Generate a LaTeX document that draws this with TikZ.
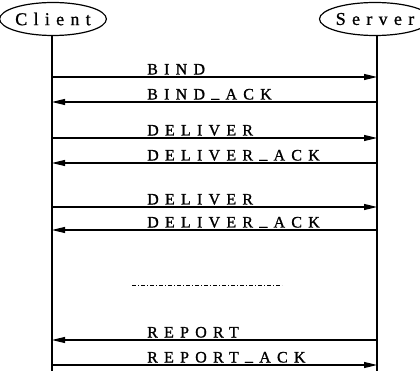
\documentclass[tikz,border=0pt]{standalone}
\usepackage{fontspec}
\setmainfont{Liberation Serif}
\usetikzlibrary{arrows.meta,shapes.geometric}
\newcommand{\usc}{\hspace{0.39em}\raisebox{1.8pt}{\_}\hspace{0.39em}}
\begin{document}
\begin{tikzpicture}[x=1pt,y=-1pt,
  actor/.style={draw,ellipse,line width=1.2pt,minimum width=95pt,minimum height=33pt,inner sep=0pt,
    font=\fontsize{18}{18}\selectfont\addfontfeature{LetterSpace=35,FakeBold=1}},
  life/.style={line width=1.4pt},
  msg/.style={line width=1.2pt,-{Triangle[length=13pt,width=6pt]}},
  lbl/.style={anchor=base west,inner sep=0pt,
    font=\fontsize{16}{16}\selectfont\addfontfeature{LetterSpace=39,FakeBold=1}},
  sep/.style={line width=0.9pt,dash pattern=on 4pt off 2pt on 1pt off 2pt}]
\useasboundingbox (0,0) rectangle (420,371);
\node[actor] (client) at (53,19) {Client};
\node[actor] (server) at (375,19) {Server};
\coordinate (cend) at (52,371);
\coordinate (send) at (377,371);
\draw[life] (client.south -| cend) -- (cend);
\draw[life] (server.south -| send) -- (send);
\foreach \n/\y in {1/77,2/102,3/138,4/163,5/207,6/230,7/340,8/365}{
  \coordinate (c\n) at (52,\y);
  \coordinate (s\n) at (377,\y);
}
\draw[msg] (c1) -- (s1);
\draw[msg] (s2) -- (c2);
\draw[msg] (c3) -- (s3);
\draw[msg] (s4) -- (c4);
\draw[msg] (c5) -- (s5);
\draw[msg] (s6) -- (c6);
\draw[msg] (s7) -- (c7);
\draw[msg] (c8) -- (s8);
\node[lbl] (l1) at (147,74.5) {BIND};
\node[lbl] (l2) at (147,99.5) {BIND\usc ACK};
\node[lbl] (l3) at (147,135.5) {DELIVER};
\node[lbl] (l4) at (147,160.5) {DELIVER\usc ACK};
\node[lbl] (l5) at (147,204.5) {DELIVER};
\node[lbl] (l6) at (147,227.5) {DELIVER\usc ACK};
\node[lbl] (l7) at (147,337.5) {REPORT};
\node[lbl] (l8) at (147,362.5) {REPORT\usc ACK};
\coordinate (d1) at (132,285);
\coordinate (d2) at (282,285);
\draw[sep] (d1) -- (d2);
\end{tikzpicture}
\end{document}
